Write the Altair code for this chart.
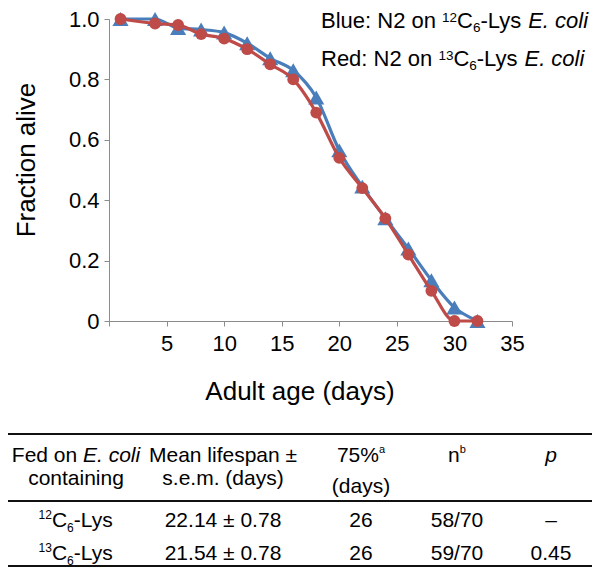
import altair as alt
import pandas as pd

# ---------------- data ----------------
days = [1, 4, 6, 8, 10, 12, 14, 16, 18, 20, 22, 24, 26, 28, 30, 32]
blue_12c = [1.0, 1.0, 0.97, 0.965, 0.955, 0.92, 0.87, 0.83, 0.74, 0.565, 0.445, 0.34, 0.24, 0.135, 0.045, 0.0]
red_13c = [1.0, 0.985, 0.98, 0.95, 0.935, 0.90, 0.85, 0.80, 0.69, 0.54, 0.44, 0.34, 0.22, 0.10, 0.0, 0.0]
series_names = ["12C6-Lys", "13C6-Lys"]

x_ticks = [0, 5, 10, 15, 20, 25, 30, 35]
y_ticks = [0, 0.2, 0.4, 0.6, 0.8, 1.0]

row_isotopes = ["12", "13"]
row_mean = ["22.14 ± 0.78", "21.54 ± 0.78"]
row_p75 = ["26", "26"]
row_n = ["58/70", "59/70"]
row_p = ["–", "0.45"]

FONT = "Liberation Sans"
BLUE = "#4a7ebb"
RED = "#be4b48"
AXIS_GREY = "#8c8c8c"

df = pd.DataFrame({
    "day": days * 2,
    "frac": blue_12c + red_13c,
    "series": [series_names[0]] * len(days) + [series_names[1]] * len(days),
})

# ------------- helpers for text ------------
W = {' ': 278, '(': 333, ')': 333, '-': 333, '.': 278, '/': 278, ':': 278, '%': 889,
     '±': 549, '–': 556, 'A': 667, 'B': 667, 'C': 722, 'E': 667, 'F': 611, 'L': 556,
     'M': 833, 'N': 722, 'R': 722, 'a': 556, 'b': 556, 'c': 500, 'd': 556, 'e': 556,
     'f': 278, 'g': 556, 'i': 222, 'l': 222, 'm': 833, 'n': 556, 'o': 556, 'p': 556,
     'r': 333, 's': 500, 't': 278, 'u': 556, 'y': 500, 'v': 500}


def tw(s, size):
    return sum(W.get(ch, 556) for ch in s) * size / 1000.0


dummy = pd.DataFrame({"k": [0]})


def tmark(s, x, y, size, italic=False, align="left", angle=0, baseline="alphabetic"):
    kw = dict(text=s, fontSize=size, font=FONT, color="black", align=align, baseline=baseline)
    if italic:
        kw["fontStyle"] = "italic"
    if angle:
        kw["angle"] = angle
    return alt.Chart(dummy).mark_text(**kw).encode(x=alt.value(x), y=alt.value(y))


def rich(segs, x, y, size, small, sup_dy, sub_dy, align="left"):
    widths = []
    for t, k in segs:
        fs = size if k in ("n", "i") else small
        widths.append(tw(t, fs))
    total = sum(widths)
    cx = x if align == "left" else x - total / 2.0
    out = []
    for (t, k), w in zip(segs, widths):
        if k == "n":
            out.append(tmark(t, cx, y, size))
        elif k == "i":
            out.append(tmark(t, cx, y, size, italic=True))
        elif k == "sup":
            out.append(tmark(t, cx, y - sup_dy, small))
        elif k == "sub":
            out.append(tmark(t, cx, y + sub_dy, small))
        cx += w
    return out


# ---------------- plot ----------------
OX, OY = 109, 19  # page position of plot origin
PLOT_W, PLOT_H = 403, 302

xs = alt.Scale(domain=[0, 35], nice=False)
ys = alt.Scale(domain=[0, 1], nice=False)

x_axis = alt.Axis(values=x_ticks, labelExpr="datum.value == 0 ? '' : datum.label",
                  title=None, grid=False, tickSize=5, labelFontSize=22, labelPadding=7,
                  labelFont=FONT, labelColor="black", domainColor=AXIS_GREY,
                  tickColor=AXIS_GREY, labelFlush=False)
y_axis = alt.Axis(values=y_ticks,
                  labelExpr="datum.value == 0 ? '0' : format(datum.value, '.1f')",
                  title=None, grid=False, tickSize=5, labelFontSize=22, labelPadding=5,
                  labelFont=FONT, labelColor="black", domainColor=AXIS_GREY,
                  tickColor=AXIS_GREY, labelFlush=False)

base = alt.Chart(df)
color_scale = alt.Scale(domain=series_names, range=[BLUE, RED])

layers = []
for name, shape, size in [(series_names[0], "triangle-up", 260), (series_names[1], "circle", 140)]:
    sub = base.transform_filter(alt.datum.series == name)
    layers.append(sub.mark_line(strokeWidth=3.2, interpolate="monotone").encode(
        x=alt.X("day:Q", scale=xs, axis=x_axis),
        y=alt.Y("frac:Q", scale=ys, axis=y_axis),
        color=alt.Color("series:N", scale=color_scale, legend=None)))
    layers.append(sub.mark_point(shape=shape, size=size, filled=True, opacity=1).encode(
        x=alt.X("day:Q", scale=xs),
        y=alt.Y("frac:Q", scale=ys),
        color=alt.Color("series:N", scale=color_scale, legend=None)))


def px(x):
    return x - OX


def py(y):
    return y - OY


# axis titles
layers.append(tmark("Adult age (days)", px(300), py(400), 26, align="center"))
layers.append(tmark("Fraction alive", px(27), py(160), 26, align="center", angle=270, baseline="middle"))

# legend-like annotations
LEG = 22
layers += rich([("Blue: N2 on ", "n"), ("12", "sup"), ("C", "n"), ("6", "sub"), ("-Lys ", "n"), ("E. coli", "i")],
               px(321), py(28), LEG, 13.5, 6, 4)
layers += rich([("Red: N2 on ", "n"), ("13", "sup"), ("C", "n"), ("6", "sub"), ("-Lys ", "n"), ("E. coli", "i")],
               px(321), py(66), LEG, 13.5, 6, 4)

# ---------------- table ----------------
TS = 21

for yl in [434, 501, 566]:
    layers.append(alt.Chart(dummy).mark_rule(color="#111111", strokeWidth=1.8).encode(
        x=alt.value(px(8)), x2=alt.value(px(592)), y=alt.value(py(yl))))

c1, c2, c3, c4, c5 = px(76), px(223), px(361), px(457), px(551)
h1, h2, h3 = py(462), py(485), py(493)
r1, r2 = py(527), py(560)

layers += rich([("Fed on ", "n"), ("E. coli", "i")], c1, h1, TS, 12, 8, 4, align="center")
layers.append(tmark("containing", c1, h2, TS, align="center"))
layers.append(tmark("Mean lifespan ±", c2, h1, TS, align="center"))
layers.append(tmark("s.e.m. (days)", c2, h2, TS, align="center"))
layers += rich([("75%", "n"), ("a", "sup")], c3, h1, TS, 11, 9, 0, align="center")
layers.append(tmark("(days)", c3, h3, TS, align="center"))
layers += rich([("n", "n"), ("b", "sup")], c4, h1, TS, 11, 9, 0, align="center")
layers.append(tmark("p", c5, h1, TS, italic=True, align="center"))

for iso, mean, p75, n, p, ry in zip(row_isotopes, row_mean, row_p75, row_n, row_p, [r1, r2]):
    layers += rich([(iso, "sup"), ("C", "n"), ("6", "sub"), ("-Lys", "n")], c1, ry, TS, 12, 8, 5, align="center")
    layers.append(tmark(mean, c2, ry, TS, align="center"))
    layers.append(tmark(p75, c3, ry, TS, align="center"))
    layers.append(tmark(n, c4, ry, TS, align="center"))
    layers.append(tmark(p, c5, ry, TS, align="center"))

chart = alt.layer(*layers).properties(
    width=PLOT_W, height=PLOT_H,
    padding={"left": OX - 8, "top": OY - 8, "right": 584 - (OX - 8) - PLOT_W,
             "bottom": 559 - (OY - 8) - PLOT_H},
    autosize=alt.AutoSizeParams(type="none"),
).configure_view(stroke=None)

chart.save("out.html", embed_options={"renderer": "svg", "actions": False})
